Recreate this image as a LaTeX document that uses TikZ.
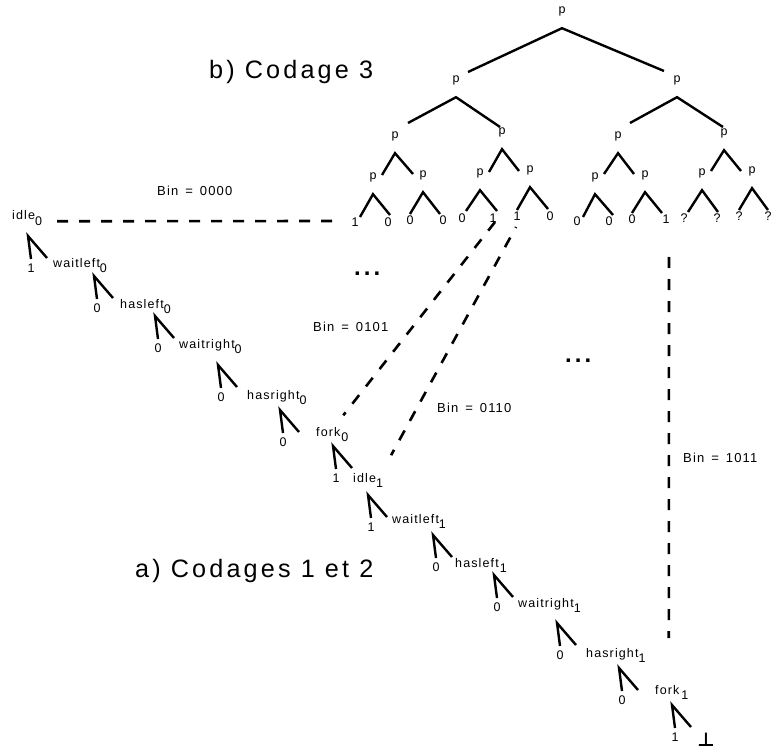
\documentclass[tikz,border=0pt]{standalone}
\usepackage{fontspec}
\setmainfont{Liberation Sans}
\newfontfamily\labfont[LetterSpace=9]{Liberation Sans}
\newfontfamily\titfont[LetterSpace=12.5]{Liberation Sans}
\newfontfamily\symfont{DejaVu Sans}
\usetikzlibrary{calc}
\newcommand\sbx[1]{\raisebox{-5.5pt}{#1}}
\newcommand\tfk[5]{\draw[br] ([shift={(#4)}]#2.center) -- (#1.south) -- ([shift={(#5)}]#3.center);}
\newcommand\cfk[4]{\draw[br] ([shift={(0,-9)}]#2.center) -- (#1) -- ([shift={(#4)}]#3);}
\begin{document}
\begin{tikzpicture}[x=1pt,y=-1pt,
  pn/.style={inner sep=0pt, minimum height=34pt, font=\labfont\fontsize{12.5}{12.5}\selectfont},
  lf/.style={inner sep=0pt, font=\labfont\fontsize{12.5}{12.5}\selectfont},
  lab/.style={anchor=base west, inner sep=0pt, font=\labfont\fontsize{12.5}{12.5}\selectfont},
  binl/.style={anchor=base west, inner sep=0pt, font=\labfont\fontsize{13}{13}\selectfont},
  titl/.style={anchor=base west, inner sep=0pt, font=\titfont\fontsize{25.2}{25.2}\selectfont},
  dots/.style={anchor=base west, inner sep=0pt, font=\titfont\bfseries\fontsize{24}{24}\selectfont},
  br/.style={line width=2.4pt},
  dl/.style={line width=2.6pt, dash pattern=on 11pt off 11pt},
]
\useasboundingbox (0,0) rectangle (773,751);

% ---------- titles ----------
\node[titl] (titb) at (209,79) {b) Codage 3};
\node[titl] (tita) at (135,577) {a) Codages 1 et 2};

% ---------- binary tree (b) ----------
\node[pn] (t0) at (562,11) {p};
\node[pn] (t1) at (456,80) {p};
\node[pn] (t2) at (677,80) {p};
\node[pn] (t3) at (395,136) {p};
\node[pn] (t4) at (502,132) {p};
\node[pn] (t5) at (618,136) {p};
\node[pn] (t6) at (724,133) {p};
\node[pn] (t7) at (373,177) {p};
\node[pn] (t8) at (423,175) {p};
\node[pn] (t9) at (480,173) {p};
\node[pn] (t10) at (530,170) {p};
\node[pn] (t11) at (595,177) {p};
\node[pn] (t12) at (645,175) {p};
\node[pn] (t13) at (702,173) {p};
\node[pn] (t14) at (752,171) {p};

\node[lf] (l7a) at (355,222) {1};
\node[lf] (l7b) at (388,222) {0};
\node[lf] (l8a) at (410,220) {0};
\node[lf] (l8b) at (443,220) {0};
\node[lf] (l9a) at (462,218) {0};
\node[lf] (l9b) at (493,218) {1};
\node[lf] (l10a) at (517,216) {1};
\node[lf] (l10b) at (550,216) {0};
\node[lf] (l11a) at (577,221) {0};
\node[lf] (l11b) at (609,221) {0};
\node[lf] (l12a) at (632,219) {0};
\node[lf] (l12b) at (666,219) {1};
\node[lf] (l13a) at (684,218) {?};
\node[lf] (l13b) at (717,218) {?};
\node[lf] (l14a) at (739,216) {?};
\node[lf] (l14b) at (768,216) {?};

\tfk{t0}{t1}{t2}{12,-8}{-13,-9}
\tfk{t1}{t3}{t4}{13,-13}{-2,-5}
\tfk{t2}{t5}{t6}{12,-13}{-1,-6}
\tfk{t3}{t7}{t8}{9,-2}{-10,-1}
\tfk{t4}{t9}{t10}{9,-1}{-11,1}
\tfk{t5}{t11}{t12}{9,-3}{-11,-1}
\tfk{t6}{t13}{t14}{9,-2}{-11,0}
\tfk{t7}{l7a}{l7b}{5,-5}{2,-7}
\tfk{t8}{l8a}{l8b}{0,-6}{-3,-6}
\tfk{t9}{l9a}{l9b}{4,-7}{4,-7}
\tfk{t10}{l10a}{l10b}{0,-6}{-2,-7}
\tfk{t11}{l11a}{l11b}{6,-4}{4,-6}
\tfk{t12}{l12a}{l12b}{0,-6}{-4,-6}
\tfk{t13}{l13a}{l13b}{4,-6}{1,-6}
\tfk{t14}{l14a}{l14b}{0,-6}{0,-6}

% ---------- chain (a) ----------
\node[lab] (n1) at (12,220) {idle\sbx{0}};
\node[lab] (n2) at (53,267) {waitleft\sbx{0}};
\node[lab] (n3) at (120,308) {hasleft\sbx{0}};
\node[lab] (n4) at (179,348) {waitright\sbx{0}};
\node[lab] (n5) at (247,399) {hasright\sbx{0}};
\node[lab] (n6) at (316,436) {fork\hspace{1pt}\sbx{0}};
\node[lab] (n7) at (353,482) {idle\sbx{1}};
\node[lab] (n8) at (392,523) {waitleft\sbx{1}};
\node[lab] (n9) at (455,567) {hasleft\hspace{1pt}\sbx{1}};
\node[lab] (n10) at (518,607) {waitright\sbx{1}};
\node[lab] (n11) at (586,657) {hasright\sbx{1}};
\node[lab] (n12) at (655,694) {fork\hspace{2pt}\sbx{1}};
\node[inner sep=0pt, font=\symfont\bfseries\fontsize{19}{19}\selectfont] (bot) at (706,740) {⊥};

\coordinate (c1) at (28,236);
\coordinate (c2) at (94,276);
\coordinate (c3) at (155,316);
\coordinate (c4) at (218,365);
\coordinate (c5) at (280,410);
\coordinate (c6) at (333,446);
\coordinate (c7) at (368,495);
\coordinate (c8) at (433,535);
\coordinate (c9) at (494,575);
\coordinate (c10) at (557,623);
\coordinate (c11) at (619,668);
\coordinate (c12) at (672,705);

\node[lf] (d1) at (31,268) {1};
\node[lf] (d2) at (97,308) {0};
\node[lf] (d3) at (158,348) {0};
\node[lf] (d4) at (221,397) {0};
\node[lf] (d5) at (283,442) {0};
\node[lf] (d6) at (336,478) {1};
\node[lf] (d7) at (371,527) {1};
\node[lf] (d8) at (436,567) {0};
\node[lf] (d9) at (497,607) {0};
\node[lf] (d10) at (560,655) {0};
\node[lf] (d11) at (622,700) {0};
\node[lf] (d12) at (675,737) {1};

\cfk{c1}{d1}{n2.base west}{-6,-9}
\cfk{c2}{d2}{n3.base west}{-7,-10}
\cfk{c3}{d3}{n4.base west}{-5,-10}
\cfk{c4}{d4}{n5.base west}{-10,-12}
\cfk{c5}{d5}{n6.base west}{-17,-4}
\cfk{c6}{d6}{n7.base west}{-1,-14}
\cfk{c7}{d7}{n8.base west}{-5,-6}
\cfk{c8}{d8}{n9.base west}{-3,-10}
\cfk{c9}{d9}{n10.base west}{-5,-10}
\cfk{c10}{d10}{n11.base west}{-10,-12}
\cfk{c11}{d11}{n12.base west}{-17,-4}
\cfk{c12}{d12}{bot.center}{-15,-13}

% ---------- dashed correspondences ----------
\node[binl] (b1) at (157,196) {Bin\hspace{7pt}=\hspace{7pt}0000};
\node[binl] (b2) at (313,331) {Bin\hspace{7pt}=\hspace{7pt}0101};
\node[binl] (b3) at (437,412) {Bin\hspace{7pt}=\hspace{7pt}0110};
\node[binl] (b4) at (683,462) {Bin\hspace{7pt}=\hspace{7pt}1011};

\draw[dl] ([shift={(15,3)}]n1.east) -- ([shift={(-18,-1)}]l7a.west);
\draw[dl] ([shift={(2,4)}]l9b.center) -- ([shift={(11,-19)}]n6.center);
\draw[dl, dash phase=10pt] ([shift={(-1,11)}]l10a.center) -- ([shift={(23,-25)}]n7.center);
\draw[dl] ([shift={(3,38)}]l12b.center) -- ([shift={(-3,-27)}]n12.center |- 0,665);

\node[dots] (e1) at (354,275) {...};
\node[dots] (e2) at (565,362) {...};
\end{tikzpicture}
\end{document}
